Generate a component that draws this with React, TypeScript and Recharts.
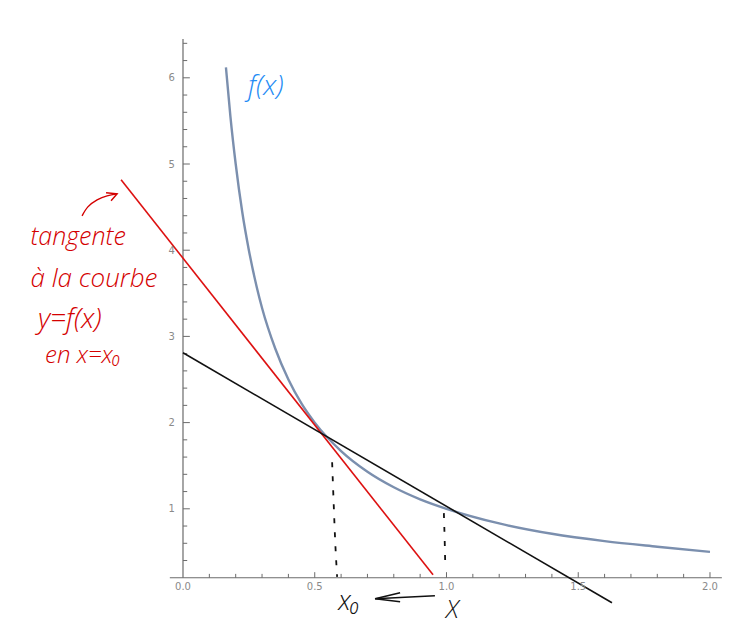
import React from 'react';
import { LineChart, Line, XAxis, YAxis, ReferenceLine, ReferenceDot } from 'recharts';

// f(x)
const curveX = [0.163, 0.18, 0.2, 0.225, 0.25, 0.28, 0.3, 0.35, 0.4, 0.45, 0.5, 0.6, 0.7, 0.8, 0.9, 1.0, 1.2, 1.4, 1.6, 1.8, 2.0];
const curveY = [6.12, 5.55, 5.0, 4.44, 4.0, 3.57, 3.33, 2.86, 2.5, 2.22, 2.0, 1.67, 1.43, 1.25, 1.11, 1.0, 0.83, 0.71, 0.625, 0.56, 0.5];

// tangent (red) and secant (black)
const tangentX = [-0.235, 0.949];
const tangentY = [4.817, 0.234];
const secantX = [0, 1.628];
const secantY = [2.81, -0.09];

// hand drawn dotted guides
const guideX0X = [0.566, 0.572, 0.578, 0.585];
const guideX0Y = [1.54, 1.05, 0.6, 0.21];
const guideX1X = [0.99, 0.993, 0.995];
const guideX1Y = [0.95, 0.65, 0.39];

// hand drawn arrows
const redArrowX = [-0.383, -0.361, -0.326, -0.288, -0.25];
const redArrowY = [4.399, 4.503, 4.585, 4.631, 4.654];
const redHeadX = [-0.292, -0.25, -0.273];
const redHeadY = [4.666, 4.654, 4.573];
const blackArrowX = [0.956, 0.729];
const blackArrowY = [-0.009, -0.044];
const blackHeadX = [0.824, 0.729, 0.824];
const blackHeadY = [0.026, -0.044, -0.079];

// axes
const axisCrossY = 0.2;
const xMajorTicks = [0.5, 1.0, 1.5, 2.0];
const xTickLabels = ['0.0', '0.5', '1.0', '1.5', '2.0'];
const xLabelValues = [0, 0.5, 1.0, 1.5, 2.0];
const xMinorTicks = [0.1, 0.2, 0.3, 0.4, 0.6, 0.7, 0.8, 0.9, 1.1, 1.2, 1.3, 1.4, 1.6, 1.7, 1.8, 1.9];
const yMajorTicks = [1, 2, 3, 4, 5, 6];
const yMinorTicks = [0.4, 0.6, 0.8, 1.2, 1.4, 1.6, 1.8, 2.2, 2.4, 2.6, 2.8, 3.2, 3.4, 3.6, 3.8, 4.2, 4.4, 4.6, 4.8, 5.2, 5.4, 5.6, 5.8, 6.2, 6.4];

// handwritten notes
const notes = [
  { text: 'f(x)', x: 0.314, y: 5.93, color: '#1f8cf5', size: 28 },
  { text: 'tangente', x: -0.398, y: 4.18, color: '#d40000', size: 25 },
  { text: 'à  la courbe', x: -0.338, y: 3.69, color: '#d40000', size: 26 },
  { text: 'y=f(x)', x: -0.43, y: 3.23, color: '#d40000', size: 28 },
  { text: 'en x=x₀', x: -0.38, y: 2.8, color: '#d40000', size: 24 },
  { text: 'x₀', x: 0.63, y: -0.05, color: '#111', size: 27 },
  { text: 'X', x: 1.022, y: -0.15, color: '#111', size: 25 },
];

const zip = (xs: number[], ys: number[]) => xs.map((x, i) => ({ x, y: ys[i] }));

const AXIS = '#6b6b6b';
const TICK_TEXT = '#8a8a8a';

const Handwriting = (props: any) => {
  const { viewBox, text, color, size } = props;
  return (
    <text
      x={viewBox.x}
      y={viewBox.y}
      textAnchor="middle"
      dominantBaseline="central"
      fill={color}
      fontSize={size}
      fontFamily="'Open Sans', 'Liberation Sans', sans-serif"
      fontWeight={300}
      fontStyle="italic"
    >
      {text}
    </text>
  );
};

const stroke = (id: string, xs: number[], ys: number[], color: string, width: number, type: any = 'linear', dash?: string) => (
  <Line
    key={id}
    id={id}
    data={zip(xs, ys)}
    dataKey="y"
    type={type}
    stroke={color}
    strokeWidth={width}
    strokeDasharray={dash}
    dot={false}
    activeDot={false}
    legendType="none"
    isAnimationActive={false}
  />
);

export default function App() {
  return (
    <div style={{ position: 'absolute', left: 0, top: 0, width: 740, height: 624, background: '#fff' }}>
      <LineChart width={740} height={624} margin={{ top: 0, right: 0, bottom: 0, left: 0 }}>
        <XAxis type="number" dataKey="x" domain={[-0.6945, 2.1139]} allowDataOverflow hide />
        <YAxis type="number" dataKey="y" domain={[-0.3364, 6.9026]} allowDataOverflow hide />

        {/* axes */}
        <ReferenceLine segment={[{ x: -0.05, y: axisCrossY }, { x: 2.045, y: axisCrossY }]} stroke={AXIS} strokeWidth={1.2} />
        <ReferenceLine segment={[{ x: 0, y: axisCrossY }, { x: 0, y: 6.45 }]} stroke={AXIS} strokeWidth={1.2} />
        {xMajorTicks.map((t) => (
          <ReferenceLine key={'xM' + t} segment={[{ x: t, y: axisCrossY }, { x: t, y: axisCrossY + 0.065 }]} stroke={AXIS} />
        ))}
        {xMinorTicks.map((t) => (
          <ReferenceLine key={'xm' + t} segment={[{ x: t, y: axisCrossY }, { x: t, y: axisCrossY + 0.045 }]} stroke={AXIS} />
        ))}
        {yMajorTicks.map((t) => (
          <ReferenceLine key={'yM' + t} segment={[{ x: 0, y: t }, { x: 0.026, y: t }]} stroke={AXIS} />
        ))}
        {yMinorTicks.map((t) => (
          <ReferenceLine key={'ym' + t} segment={[{ x: 0, y: t }, { x: 0.016, y: t }]} stroke={AXIS} />
        ))}
        {xLabelValues.map((v, i) => (
          <ReferenceDot
            key={'xl' + v}
            x={v}
            y={axisCrossY}
            r={0}
            stroke="none"
            fill="none"
            label={{ value: xTickLabels[i], position: 'bottom', offset: 5, fill: TICK_TEXT, fontSize: 10, fontFamily: "'DejaVu Sans', sans-serif" }}
          />
        ))}
        {yMajorTicks.map((v) => (
          <ReferenceDot
            key={'yl' + v}
            x={0}
            y={v}
            r={0}
            stroke="none"
            fill="none"
            label={{ value: String(v), position: 'left', offset: 8, fill: TICK_TEXT, fontSize: 10, fontFamily: "'DejaVu Sans', sans-serif" }}
          />
        ))}

        {stroke('curve', curveX, curveY, '#7b8fae', 2.4, 'monotone')}
        {stroke('tangent', tangentX, tangentY, '#dd1111', 1.6)}
        {stroke('secant', secantX, secantY, '#111', 1.6)}
        {stroke('guide0', guideX0X, guideX0Y, '#111', 1.8, 'monotone', '5 9')}
        {stroke('guide1', guideX1X, guideX1Y, '#111', 1.8, 'monotone', '5 9')}
        {stroke('redArrow', redArrowX, redArrowY, '#d40000', 1.4, 'natural')}
        {stroke('redHead', redHeadX, redHeadY, '#d40000', 1.4)}
        {stroke('blackArrow', blackArrowX, blackArrowY, '#111', 1.6)}
        {stroke('blackHead', blackHeadX, blackHeadY, '#111', 1.6)}

        {notes.map((n) => (
          <ReferenceDot
            key={n.text}
            x={n.x}
            y={n.y}
            r={0}
            stroke="none"
            fill="none"
            label={<Handwriting text={n.text} color={n.color} size={n.size} />}
          />
        ))}
      </LineChart>
    </div>
  );
}
